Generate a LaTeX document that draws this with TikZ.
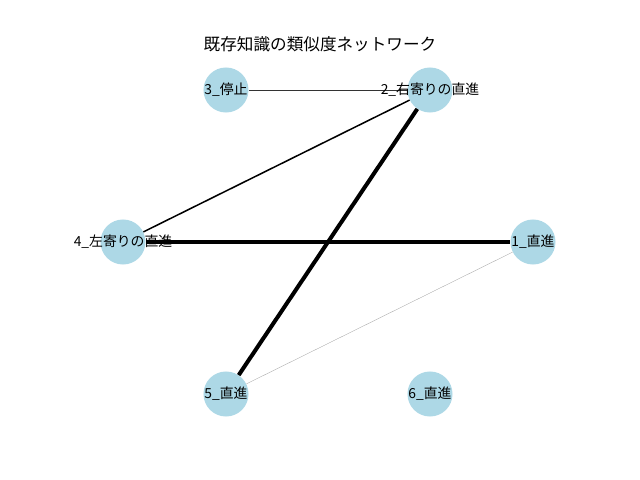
\documentclass[tikz,border=0pt]{standalone}
\usepackage{fontspec}
\setmainfont{Noto Sans CJK JP}
\usepackage{tikz}
\definecolor{nodeBlue}{HTML}{ADD8E6}

\begin{document}
\begin{tikzpicture}[x=0.01in, y=-0.01in, font=\fontsize{10pt}{12pt}\selectfont,
  knot/.style={circle, fill=nodeBlue, inner sep=0pt, minimum size=0.45in},
  lbl/.style={inner sep=0pt, anchor=center},
  simline/.style={draw=black, line cap=butt},
]
  \useasboundingbox (0,0) rectangle (640,480);
  % title
  \node[font=\fontsize{12pt}{14pt}\selectfont] (title) at (320,44) {既存知識の類似度ネットワーク};
  % nodes
  \node[knot] (n3) at (226,90) {};
  \node[knot] (n2) at (430,90) {};
  \node[knot] (n4) at (123,242) {};
  \node[knot] (n1) at (533,242) {};
  \node[knot] (n5) at (226,394) {};
  \node[knot] (n6) at (430,394) {};
  % edges
  \draw[simline, line width=0.7pt, black!80] (n3) -- (n2);
  \draw[simline, line width=1.1pt] (n2) -- (n4);
  \draw[simline, line width=2.9pt] (n2) -- (n5);
  \draw[simline, line width=3pt] (n4) -- (n1);
  \draw[simline, line width=0.25pt, black!35] (n1) -- (n5);
  % labels
  \node[lbl] (t3) at (n3) {3\_停止};
  \node[lbl] (t2) at (n2) {2\_右寄りの直進};
  \node[lbl] (t4) at (n4) {4\_左寄りの直進};
  \node[lbl] (t1) at (n1) {1\_直進};
  \node[lbl] (t5) at (n5) {5\_直進};
  \node[lbl] (t6) at (n6) {6\_直進};
\end{tikzpicture}
\end{document}
